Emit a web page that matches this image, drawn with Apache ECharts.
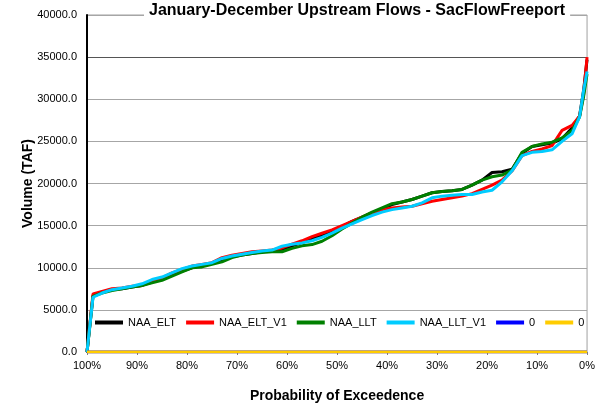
<!DOCTYPE html>
<html>
<head>
	<meta charset="utf-8">
	<title>January-December Upstream Flows - SacFlowFreeport</title>
	<script src="https://cdn.jsdelivr.net/npm/echarts@6/dist/echarts.min.js"></script>
	<style>
		html, body { margin: 0; padding: 0; background: #fff; }
		#chart { width: 598px; height: 409px; }
	</style>
</head>
<body>
<div id="chart"></div>
<script>
	// probability of exceedance (%), shared by all series
	var probs = [100, 98.8, 97, 95, 93, 91, 89, 87, 85, 83, 81, 79, 77, 75, 73, 71, 69, 67, 65, 63,
		61, 59, 57, 55, 53, 51, 49, 47, 45, 43, 41, 39, 37, 35, 33, 31, 29, 27, 25, 23,
		21, 19, 17, 15, 13, 11, 9, 7, 5, 3, 1.5, 0.7, 0];

	// volumes (TAF)
	var naaElt = [0, 6700, 7100, 7400, 7500, 7700, 7900, 8300, 8700, 9200, 9600, 10000, 10300, 10500, 10900, 11300, 11500, 11700, 11900, 12000,
		12200, 12600, 13000, 13400, 13900, 14300, 14900, 15500, 16000, 16500, 17000, 17500, 17800, 18100, 18500, 18900, 19050, 19150, 19300, 19800,
		20400, 21300, 21400, 21700, 23600, 24400, 24600, 24800, 25300, 26600, 28000, 31000, 34700];
	var naaEltV1 = [0, 6900, 7200, 7500, 7600, 7800, 7900, 8400, 8800, 9400, 9800, 10200, 10400, 10600, 11200, 11500, 11700, 11900, 12000, 12100,
		12350, 12800, 13200, 13700, 14100, 14500, 15000, 15500, 16000, 16500, 16900, 17100, 17200, 17300, 17600, 17900, 18100, 18300, 18500, 18800,
		19300, 19800, 20400, 21500, 23300, 23800, 24100, 24500, 26300, 26900, 28000, 30500, 35000];
	var naaLlt = [0, 6600, 7000, 7300, 7500, 7700, 7900, 8200, 8500, 9000, 9500, 10000, 10100, 10400, 10700, 11200, 11500, 11700, 11800, 11900,
		11900, 12300, 12600, 12750, 13150, 13800, 14600, 15300, 16000, 16600, 17100, 17600, 17800, 18100, 18500, 18900, 19050, 19150, 19300, 19800,
		20400, 20800, 21000, 21600, 23700, 24400, 24700, 24900, 25400, 26300, 27900, 30300, 33000];
	var naaLltV1 = [0, 6500, 7000, 7400, 7600, 7800, 8100, 8600, 8900, 9400, 9900, 10200, 10400, 10600, 11100, 11400, 11600, 11800, 12000, 12100,
		12550, 12800, 12950, 13200, 13600, 14100, 14700, 15200, 15700, 16200, 16600, 16900, 17100, 17300, 17700, 18300, 18500, 18600, 18700, 18700,
		19000, 19200, 20200, 21500, 23300, 23700, 23800, 24000, 25000, 25900, 27900, 31000, 33300];
	var zeroA = [0, 0, 0, 0, 0, 0, 0, 0, 0, 0, 0, 0, 0, 0, 0, 0, 0, 0, 0, 0,
		0, 0, 0, 0, 0, 0, 0, 0, 0, 0, 0, 0, 0, 0, 0, 0, 0, 0, 0, 0,
		0, 0, 0, 0, 0, 0, 0, 0, 0, 0, 0, 0, 0];
	var zeroB = zeroA.slice();

	var xTicks = [0, 10, 20, 30, 40, 50, 60, 70, 80, 90, 100];
	var yTicks = [0, 5000, 10000, 15000, 20000, 25000, 30000, 35000, 40000];

	function pairs(vals) {
		var out = [];
		for (var i = 0; i < probs.length; i++) {
			out.push([probs[i], vals[i]]);
		}
		return out;
	}

	var font = 'Liberation Sans, Arial, sans-serif';
	var myChart = echarts.init(document.getElementById('chart'));
	var option;

	option = {
		animation: false,
		title: {
			text: 'January-December Upstream Flows - SacFlowFreeport',
			left: 144,
			top: 0,
			padding: [3, 5],
			backgroundColor: '#fff',
			textStyle: { fontFamily: font, fontSize: 16, fontWeight: 'bold', color: '#000' }
		},
		grid: {
			left: 87, right: 10, top: 15, bottom: 57,
			show: true, borderColor: '#a0a0a0', borderWidth: 1
		},
		legend: {
			left: 95,
			top: 317,
			width: 500,
			padding: 0,
			itemWidth: 28,
			itemHeight: 4,
			itemGap: 10,
			icon: 'rect',
			textStyle: { fontFamily: font, fontSize: 11, color: '#000' },
			data: ['NAA_ELT', 'NAA_ELT_V1', 'NAA_LLT', 'NAA_LLT_V1', '0', '0\u200b']
		},
		xAxis: {
			type: 'value',
			inverse: true,
			min: xTicks[0],
			max: xTicks[xTicks.length - 1],
			interval: 10,
			name: 'Probability of Exceedence',
			nameLocation: 'middle',
			nameGap: 37,
			nameMoveOverlap: false,
			nameTextStyle: { fontFamily: font, fontSize: 14, fontWeight: 'bold', color: '#000' },
			axisLine: { onZero: false, lineStyle: { color: '#a0a0a0' } },
			axisTick: { show: true, length: 3, lineStyle: { color: '#808080' } },
			splitLine: { show: false },
			axisLabel: {
				fontFamily: font, fontSize: 11, color: '#000', margin: 8,
				formatter: function (v) { return v + '%'; }
			}
		},
		yAxis: {
			type: 'value',
			position: 'left',
			min: yTicks[0],
			max: yTicks[yTicks.length - 1],
			interval: 5000,
			name: 'Volume (TAF)',
			nameLocation: 'middle',
			nameGap: 52,
			nameMoveOverlap: false,
			nameTextStyle: { fontFamily: font, fontSize: 14, fontWeight: 'bold', color: '#000' },
			axisLine: { show: true, onZero: false, lineStyle: { color: '#000', width: 2 } },
			axisTick: { show: false },
			splitLine: {
				show: true,
				lineStyle: { color: ['#a6a6a6', '#a6a6a6', '#a6a6a6', '#a6a6a6', '#a6a6a6', '#a6a6a6', '#a6a6a6', '#555555', '#a6a6a6'], width: 1 }
			},
			axisLabel: {
				fontFamily: font, fontSize: 11, color: '#000', margin: 10,
				formatter: function (v) { return v.toFixed(1); }
			}
		},
		series: [
			{ name: 'NAA_ELT', type: 'line', data: pairs(naaElt), symbol: 'none', color: '#000000', lineStyle: { width: 3 } },
			{ name: 'NAA_ELT_V1', type: 'line', data: pairs(naaEltV1), symbol: 'none', color: '#ff0000', lineStyle: { width: 3 } },
			{ name: 'NAA_LLT', type: 'line', data: pairs(naaLlt), symbol: 'none', color: '#008000', lineStyle: { width: 3 } },
			{ name: 'NAA_LLT_V1', type: 'line', data: pairs(naaLltV1), symbol: 'none', color: '#00ccff', lineStyle: { width: 3 } },
			{ name: '0', type: 'line', data: pairs(zeroA), symbol: 'none', color: '#0000ff', lineStyle: { width: 3 } },
			{ name: '0\u200b', type: 'line', data: pairs(zeroB), symbol: 'none', color: '#ffcc00', lineStyle: { width: 3 } }
		]
	};

	option && myChart.setOption(option);
</script>
</body>
</html>
